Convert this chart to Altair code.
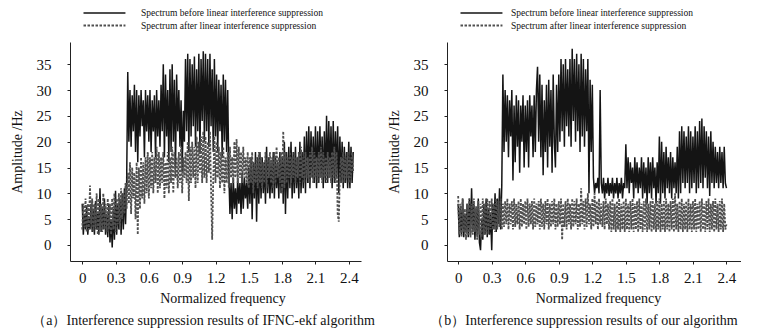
import altair as alt
import pandas as pd

# Spectrum amplitudes sampled every 0.01 of normalized frequency
STEP = 0.01

# (a) IFNC-ekf algorithm, before / after suppression
A_BEFORE = [
    8, 2, 6, 3, 7.5, 2, 5, 3, 8, 2.5,
    7, 2, 8.5, 3, 6, 2, 11, 2.5, 7, 3,
    9, 2, 6, 1.5, 8, 0.5, 5, -0.5, 7, 1,
    10.5, 2, 8, 3, 9, 2, 10, 3, 11, 4,
    12, 33.5, 20, 30, 19, 29, 22, 31, 18, 30,
    16, 29, 21, 30, 23, 28, 17, 30, 22, 29,
    20, 30, 18, 28, 22, 29, 17, 30, 21, 28,
    19, 31, 22, 35, 17, 33, 21, 30, 16, 34,
    18, 35, 20, 32, 15, 33, 22, 30, 19, 28,
    14, 26, 20, 36, 22, 37, 18, 36, 21, 35,
    23, 36.5, 19, 34, 22, 37, 18, 36, 24, 37.5,
    20, 37, 22, 36, 19, 37, 23, 34, 18, 36,
    21, 33, 18, 32, 22, 31, 17, 33, 20, 32,
    18, 30, 14, 6, 12, 5, 13, 7, 11, 6,
    13, 8, 12, 6, 14, 7, 13, 9, 12, 7,
    15, 8, 17, 5, 16, 9, 18, 4.5, 17, 8,
    18, 9, 17, 10, 16, 8, 19, 10, 17, 9,
    16, 10, 18, 9, 17, 11, 16, 9, 18, 10,
    17, 8, 20, 6, 18, 9, 19, 11, 20, 9,
    18, 10, 19, 11, 17, 9, 20, 10, 18, 11,
    21, 10, 22, 12, 23, 11, 22, 13, 21, 12,
    23, 11, 22, 12, 23, 13, 21, 11, 22, 12,
    25, 12, 24, 13, 23, 11, 24, 12, 22, 13,
    23, 10, 21, 12, 20, 11, 19, 12, 18, 11,
    20, 11, 19, 12, 18,
]
A_AFTER = [
    3, 8, 3.5, 9, 2.5, 8, 3, 11.5, 4, 9,
    2.5, 8, 3, 10, 2, 9, 3, 8, 2.5, 10,
    3, 8, 2.5, 9, 3, 8, 2, 9, 3, 10,
    2.5, 9, 4, 10, 3, 11, 5, 10, 6, 12,
    7, 14, 8, 16, 6, 15, 9, 14, 5, 16,
    2, 15, 7, 17, 9, 16, 8, 17, 10, 18,
    9, 17, 11, 18, 10, 17, 12, 19, 10, 18,
    11, 17, 12, 18, 9, 16, 11, 18, 10, 17,
    12, 19, 10, 18, 13, 17, 11, 18, 12, 19,
    10, 17, 13, 18, 12, 20, 8.5, 19, 12, 20,
    13, 19, 11, 21, 12, 20, 14, 21, 12, 22,
    13, 21, 12, 20, 14, 22, 11, 1, 13, 21,
    12, 20, 13, 19, 11, 18, 12, 19, 10, 17,
    12, 18, 11, 19, 13, 17, 12, 20, 13, 20.5,
    12, 19, 13, 18, 12, 19, 13, 17, 12, 18,
    11, 17, 12, 18, 10, 16, 12, 17, 11, 18,
    12, 17, 11, 16, 12, 18, 11, 17, 13, 18,
    12, 17, 11, 18, 12, 19, 13, 17, 12, 18,
    10, 22, 11, 18, 12, 17, 13, 18, 12, 17,
    13, 18, 12, 17, 13, 18, 12, 19, 13, 17,
    12, 18, 13, 17, 12, 18, 13, 19, 12, 18,
    13, 17, 12, 18, 13, 19, 12, 18, 13, 17,
    12, 18, 13, 17, 12, 18, 13, 19, 12, 18,
    6, 4.5, 14, 17, 13, 18, 12, 17, 13, 18,
    12, 17, 13, 18, 14,
]

# (b) proposed algorithm, before / after suppression
B_BEFORE = [
    8, 1.5, 7, 2, 9, 1.5, 6, 2.5, 8, 1.5,
    9, 2, 11, 2.5, 8, 1, 7, 2, 9, 0.5,
    -1, 5, 1, 8, 2, 9, 1.5, 7, 2, 6,
    -1, 8, 3, 10, 2.5, 9, 4, 11, 3, 11.5,
    33, 18, 30, 20, 29, 17, 28, 21, 30, 12.5,
    27, 16, 29, 19, 28, 14, 27, 20, 29, 15,
    27, 18, 28, 15, 29, 21, 27, 17, 29, 18,
    30, 34.5, 20, 33, 17, 31, 13.5, 28, 18, 31,
    15, 32, 19, 30, 14, 33, 20, 15, 31, 18,
    33, 20, 36, 22, 35, 19, 36, 23, 34, 21,
    36, 19, 38, 24, 36, 20, 37, 22, 35, 18,
    37, 21, 36, 19, 34, 22, 36, 10, 32, 18,
    31, 13, 10, 12, 11, 13, 10, 30, 12, 10,
    13, 9, 12, 10, 13, 9.5, 12, 10, 13, 9,
    12, 10, 13, 9, 12, 10, 13, 9, 12, 11,
    19.5, 11, 17, 10, 16, 12, 15, 9, 17, 11,
    16, 10, 15, 11, 17, 9, 16, 10, 15, 8,
    17, 10, 16, 9, 17, 11, 15, 8, 16, 10,
    21, 8, 20, 10, 18, 9, 19, 11, 17, 10,
    18, 9, 17, 11, 16, 10, 19, 9, 22, 10,
    23, 12, 22, 11, 21, 12, 23, 10, 22, 11,
    21, 12, 23, 10, 22, 11, 24, 12, 24.5, 11,
    23, 13, 22, 11, 21, 9.5, 22, 12, 20, 11,
    19, 12, 18, 11, 19, 12, 18, 11, 19, 12,
    11,
]
B_AFTER = [
    9.5, 2, 8, 1.5, 9, 2.5, 7, 1, 8, 2,
    9, 1.5, 8, 2, 9, 2.5, 7.5, 1, 8.5, 2,
    8, 1.5, 9, 2, 8, 2.5, 9, 2, 8.5, 3,
    9, 3, 8, 2.5, 9, 3, 8.5, 3.5, 9, 3,
    8, 3.5, 8.5, 4, 9, 3, 8, 4, 8.5, 3,
    9, 3.5, 8, 4, 8.5, 3, 9, 3.5, 8, 4,
    8.5, 3, 9, 3.5, 8, 4, 8.5, 3, 9, 3.5,
    8, 4, 8.5, 3, 9, 3.5, 8, 3, 8.5, 4,
    9, 3, 8, 3.5, 8.5, 4, 9, 3, 8, 3.5,
    8.5, 4, 9, 1, 8, 3.5, 8.5, 3, 9, 4,
    8, 3, 9, 3.5, 8.5, 4, 9, 3, 8, 3.5,
    11, 4, 8.5, 3, 9, 3.5, 10, 4, 8, 3,
    9, 3.5, 10, 4, 8.5, 3, 9, 4, 8, 3.5,
    8.5, 3, 9, 4, 8, 3, 8.5, 2.5, 9, 3,
    8, 2.5, 8.5, 3, 9, 2.5, 8, 3, 8.5, 2.5,
    9, 3, 8, 2.5, 8.5, 3, 9, 2.5, 8, 3,
    8.5, 2.5, 9, 3, 8, 2.5, 8.5, 3, 9, 2.5,
    8, 3, 8.5, 2.5, 9, 3, 8, 2.5, 8.5, 3,
    9, 2.5, 8, 3, 8.5, 2.5, 9, 3, 8, 2.5,
    8.5, 3, 9, 2.5, 10, 3, 8, 2.5, 8.5, 3,
    9, 2.5, 8, 3, 8.5, 2.5, 9, 3, 8, 2.5,
    8.5, 3, 9, 2.5, 8, 3, 8.5, 2.5, 9, 3,
    8, 2.5, 8.5, 3, 9, 2.5, 8, 3, 8.5, 2.5,
    9, 3, 8, 2.5, 8.5, 3, 9, 2.5, 8, 3,
    4,
]

SERIES = [
    "Spectrum before linear interference suppression",
    "Spectrum after linear interference suppression",
]
CAPTIONS = [
    "（a）Interference suppression results of IFNC-ekf algorithm",
    "（b）Interference suppression results of our algorithm",
]
X_TICKS = [0, 0.3, 0.6, 0.9, 1.2, 1.5, 1.8, 2.1, 2.4]
Y_TICKS = [0, 5, 10, 15, 20, 25, 30, 35]

SERIF = "Times New Roman, Liberation Serif, Times, serif"
INK = "#111111"


def spectrum_frame(before, after):
    rows = []
    for name, values in zip(SERIES, (before, after)):
        for i, v in enumerate(values):
            rows.append({"freq": round(i * STEP, 2), "amp": v, "series": name})
    return pd.DataFrame(rows)


def panel(before, after, caption, x_domain, width, caption_dx, xtitle_dx, label_offset):
    df = spectrum_frame(before, after)
    # horizontal line-sample symbol, 42 px long
    legend = alt.Legend(
        title=None,
        orient="none",
        legendX=7,
        legendY=-35,
        symbolType="M0,0H8",
        symbolSize=110,
        symbolStrokeWidth=1.8,
        labelFont=SERIF,
        labelFontSize=9.5,
        labelColor=INK,
        labelLimit=400,
        labelOffset=label_offset,
        rowPadding=1,
        padding=0,
    )
    x_axis = alt.Axis(
        title="Normalized frequency",
        values=X_TICKS,
        format="~g",
        grid=False,
        tickSize=3,
        labelPadding=6,
        titlePadding=6,
        titleX=width / 2 + xtitle_dx,
        labelFont=SERIF,
        labelFontSize=15,
        labelColor=INK,
        titleFont=SERIF,
        titleFontSize=14,
        titleFontWeight="normal",
        titleColor=INK,
        domainColor="#222",
        tickColor="#222",
    )
    y_axis = alt.Axis(
        title="Amplitude /Hz",
        values=Y_TICKS,
        format="d",
        grid=False,
        tickSize=3,
        labelPadding=16,
        titlePadding=12,
        labelFont=SERIF,
        labelFontSize=15,
        labelColor=INK,
        titleFont=SERIF,
        titleFontSize=14,
        titleFontWeight="normal",
        titleColor=INK,
        domainColor="#222",
        tickColor="#222",
    )
    return (
        alt.Chart(df)
        .mark_line(interpolate="linear")
        .encode(
            x=alt.X(
                "freq:Q",
                scale=alt.Scale(domain=x_domain, nice=False, zero=False),
                axis=x_axis,
            ),
            y=alt.Y(
                "amp:Q",
                scale=alt.Scale(domain=[-3.1, 39.3], nice=False, zero=False),
                axis=y_axis,
            ),
            color=alt.Color(
                "series:N",
                scale=alt.Scale(domain=SERIES, range=["#141414", "#505050"]),
                legend=legend,
            ),
            strokeDash=alt.StrokeDash(
                "series:N",
                scale=alt.Scale(domain=SERIES, range=[[1, 0], [2.5, 1.5]]),
                legend=legend,
            ),
            strokeWidth=alt.StrokeWidth(
                "series:N",
                scale=alt.Scale(domain=SERIES, range=[1.5, 1.8]),
                legend=None,
            ),
            order=alt.Order("freq:Q"),
        )
        .properties(
            width=width,
            height=219,
            title=alt.TitleParams(
                caption,
                orient="bottom",
                anchor="middle",
                font=SERIF,
                fontSize=14,
                fontWeight="normal",
                color=INK,
                offset=9,
                dx=caption_dx,
            ),
        )
    )


left = panel(A_BEFORE, A_AFTER, CAPTIONS[0], [-0.11, 2.51], 291, -12, 7, 51)
right = panel(B_BEFORE, B_AFTER, CAPTIONS[1], [-0.1, 2.53], 294, -10, 4, 44)

# panels are spaced by their plot areas only
chart = (
    alt.hconcat(left, right, spacing=86, bounds="flush")
    .resolve_scale(color="independent", strokeDash="independent", strokeWidth="independent")
    .configure_view(stroke=None)
    .properties(background="white", padding={"left": 10, "top": 7, "right": 0, "bottom": 3})
)

chart.save("out.html", embed_options={"renderer": "svg", "actions": False})
